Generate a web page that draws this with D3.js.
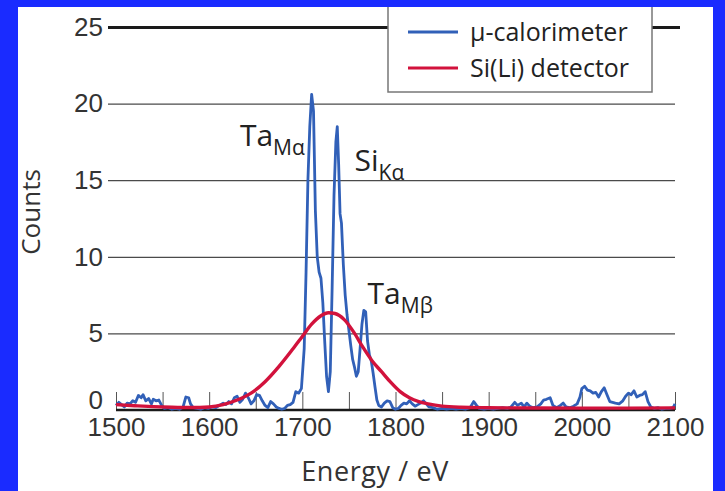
<!DOCTYPE html>
<html>
<head>
<meta charset="utf-8">
<script src="https://cdn.jsdelivr.net/npm/d3@7"></script>
<style>
    body { margin: 0; background: #1a2bff; }
    svg { display: block; font-family: "Open Sans", sans-serif; }
    .tick text { font-size: 26px; fill: #333; }
</style>
</head>
<body>
<script>
// μ-calorimeter spectrum: energy (eV) and counts
const calEnergy = [1500, 1503, 1506, 1509, 1512, 1515, 1518, 1521, 1524, 1527, 1529, 1532, 1535, 1538, 1540, 1543, 1546, 1549, 1552, 1556,
    1560, 1564, 1568, 1572, 1575, 1578, 1580, 1583, 1587, 1591, 1595, 1599, 1603, 1607, 1611, 1615, 1618, 1621, 1624, 1627,
    1630, 1633, 1636, 1639, 1642, 1645, 1648, 1651, 1654, 1657, 1660, 1663, 1666, 1669, 1672, 1675, 1678, 1681, 1684, 1687,
    1690, 1693, 1696, 1699, 1702, 1704, 1706, 1708, 1710, 1712, 1714, 1716, 1718, 1720, 1722, 1724, 1726, 1728, 1730, 1732,
    1734, 1736, 1737.5, 1739, 1740.5, 1742, 1744, 1746, 1748, 1750, 1752, 1754, 1756, 1758, 1760, 1762, 1764, 1766, 1768, 1770,
    1772, 1774, 1776, 1778, 1780, 1782, 1785, 1788, 1791, 1794, 1797, 1800, 1803, 1806, 1809, 1812, 1815, 1818, 1821, 1824,
    1827, 1830, 1833, 1836, 1840, 1845, 1850, 1855, 1860, 1865, 1870, 1875, 1880, 1884, 1887, 1890, 1895, 1900, 1905, 1910,
    1915, 1920, 1924, 1928, 1931, 1935, 1938, 1941, 1944, 1948, 1952, 1956, 1959, 1962, 1966, 1969, 1973, 1977, 1980, 1983,
    1987, 1991, 1995, 1998, 2000, 2003, 2006, 2009, 2012, 2015, 2018, 2021, 2024, 2027, 2030, 2033, 2036, 2040, 2044, 2047,
    2050, 2053, 2056, 2059, 2062, 2065, 2068, 2071, 2074, 2078, 2082, 2086, 2090, 2094, 2098, 2100]
const calCounts = [0.3, 0.5, 0.35, 0.2, 0.45, 0.4, 0.6, 0.5, 0.95, 0.8, 1.0, 0.6, 0.75, 0.4, 0.7, 0.6, 0.65, 0.3, 0.1, 0.15,
    0.05, 0.1, 0.05, 0.2, 0.85, 0.8, 0.4, 0.15, 0.1, 0.05, 0.15, 0.1, 0.2, 0.15, 0.3, 0.45, 0.35, 0.55, 0.4, 0.8,
    0.9, 0.5, 0.7, 1.1, 0.8, 0.4, 0.6, 1.0, 0.95, 0.6, 0.3, 0.15, 0.55, 0.4, 0.2, 0.1, 0.05, 0.1, 0.3, 0.35,
    0.5, 1.2, 1.1, 1.4, 4, 9, 15, 18.5, 20.6, 19.5, 13, 10, 9, 8.6, 7, 4.5, 2.2, 1.2, 2.5, 8,
    14, 17.5, 18.5, 16, 12.8, 12.2, 9.5, 7.5, 6.2, 5.2, 4.2, 3.3, 2.8, 2.2, 2.5, 4, 5.6, 6.5, 6.4, 4.5,
    3.6, 3.2, 2.4, 1.5, 0.65, 0.3, 0.2, 0.45, 0.6, 0.55, 0.15, 0.05, 0.1, 0.3, 0.45, 0.4, 0.6, 0.4, 0.25, 0.35,
    0.45, 0.6, 0.4, 0.2, 0.15, 0.05, 0.1, 0.05, 0.1, 0.05, 0.1, 0.05, 0.15, 0.55, 0.3, 0.1, 0.05, 0.1, 0.05, 0.1,
    0.15, 0.1, 0.2, 0.5, 0.3, 0.45, 0.2, 0.45, 0.25, 0.15, 0.2, 0.4, 0.65, 0.7, 0.8, 0.3, 0.15, 0.3, 0.45, 0.2,
    0.15, 0.25, 0.4, 0.85, 1.4, 1.55, 1.3, 1.25, 1.1, 1.15, 0.85, 1.2, 1.45, 1.0, 0.55, 0.5, 0.45, 0.4, 0.6, 0.9,
    1.1, 1.0, 1.25, 0.85, 0.95, 1.0, 1.2, 0.55, 0.2, 0.1, 0.15, 0.05, 0.1, 0.1, 0.15, 0.4]

// Si(Li) detector spectrum
const siliEnergy = [1500, 1520, 1540, 1560, 1580, 1600, 1615, 1630, 1645, 1660, 1675, 1690, 1700, 1710, 1720, 1728, 1735, 1745,
    1755, 1765, 1775, 1785, 1795, 1805, 1815, 1825, 1835, 1850, 1870, 1900, 1950, 2000, 2050, 2100]
const siliCounts = [0.35, 0.28, 0.22, 0.18, 0.16, 0.2, 0.35, 0.65, 1.1, 1.85, 2.85, 4.0, 4.8, 5.6, 6.15, 6.35, 6.3, 5.9,
    5.1, 4.1, 3.2, 2.5, 1.8, 1.2, 0.8, 0.55, 0.4, 0.25, 0.18, 0.15, 0.13, 0.12, 0.12, 0.14]

const xTicks = [1500, 1600, 1700, 1800, 1900, 2000, 2100]
const xMinorTicks = d3.range(1500, 2101, 50)
const yTicks = [0, 5, 10, 15, 20, 25]

const seriesNames = ["μ-calorimeter", "Si(Li) detector"]
const seriesColors = ["#3160b8", "#d2123c"]

// peak labels: [main, subscript, energy, counts]
const peakLabels = [
    ["Ta", "Mα", 1633, 17.2],
    ["Si", "Kα", 1756, 15.6],
    ["Ta", "Mβ", 1770, 6.9]
]

const WIDTH = 725
const HEIGHT = 491

const svg = d3.select("body")
    .append("svg")
    .attr("width", WIDTH)
    .attr("height", HEIGHT)

svg.append("rect")
    .attr("x", 18)
    .attr("y", 7)
    .attr("width", 695)
    .attr("height", HEIGHT - 7)
    .attr("fill", "#ffffff")

const xScale = d3.scaleLinear()
    .domain([1500, 2100])
    .range([116, 675])

const yScale = d3.scaleLinear()
    .domain([0, 25])
    .range([410, 27])

// y axis with gridlines
const yAxis = svg.append("g")
    .attr("transform", "translate(108, 0)")
    .call(d3.axisLeft(yScale).tickValues(yTicks).tickSize(-(675 - 108)).tickPadding(5))
yAxis.select(".domain").remove()
yAxis.selectAll(".tick line")
    .attr("stroke", d => d == 25 ? "#1a1a1a" : "#4a4a4a")
    .attr("stroke-width", d => d == 25 ? 3 : 1.2)
    .attr("x2", d => d == 25 ? 680 - 108 : 675 - 108)
yAxis.selectAll(".tick")
    .filter(d => d == 0)
    .select("line").remove()
yAxis.selectAll(".tick")
    .filter(d => d == 0)
    .select("text").attr("dy", "-0.05em").attr("font-size", 24)

// minor ticks pointing up from the baseline
const minor = svg.append("g")
    .attr("transform", "translate(0, 410)")
    .call(d3.axisTop(xScale).tickValues(xMinorTicks).tickSize(18).tickFormat(""))
minor.select(".domain").remove()
minor.selectAll(".tick line").attr("stroke", "#555").attr("stroke-width", 1)

// x axis labels
const xAxis = svg.append("g")
    .attr("transform", "translate(0, 410)")
    .call(d3.axisBottom(xScale).tickValues(xTicks).tickSize(0).tickPadding(8).tickFormat(d3.format("d")))
xAxis.select(".domain").remove()

svg.append("line")
    .attr("x1", xScale(1500))
    .attr("x2", xScale(2100))
    .attr("y1", yScale(0))
    .attr("y2", yScale(0))
    .attr("stroke", "#1a1a1a")
    .attr("stroke-width", 2.5)

const line = d3.line()
    .x(d => xScale(d[0]))
    .y(d => yScale(d[1]))

svg.append("path")
    .datum(d3.zip(calEnergy, calCounts))
    .attr("fill", "none")
    .attr("stroke", seriesColors[0])
    .attr("stroke-width", 2.8)
    .attr("stroke-linejoin", "round")
    .attr("d", line)

svg.append("path")
    .datum(d3.zip(siliEnergy, siliCounts))
    .attr("fill", "none")
    .attr("stroke", seriesColors[1])
    .attr("stroke-width", 3.4)
    .attr("d", line.curve(d3.curveMonotoneX))

// peak annotations
peakLabels.forEach(p => {
    const t = svg.append("text")
        .attr("x", xScale(p[2]))
        .attr("y", yScale(p[3]))
        .attr("font-size", 30)
        .attr("fill", "#222")
    t.append("tspan").text(p[0])
    t.append("tspan")
        .attr("font-size", 21)
        .attr("dy", 9)
        .text(p[1])
})

// legend
svg.append("rect")
    .attr("x", 388)
    .attr("y", 2)
    .attr("width", 264)
    .attr("height", 90)
    .attr("fill", "#fff")
    .attr("stroke", "#777")
    .attr("stroke-width", 1.5)
seriesNames.forEach((name, i) => {
    const y = 32 + i * 36
    svg.append("line")
        .attr("x1", 408)
        .attr("x2", 458)
        .attr("y1", y)
        .attr("y2", y)
        .attr("stroke", seriesColors[i])
        .attr("stroke-width", 3)
    svg.append("text")
        .attr("x", 470)
        .attr("y", y + 9)
        .attr("font-size", 25)
        .attr("fill", "#222")
        .text(name)
})

// blue border strip over legend top
svg.append("rect")
    .attr("x", 0)
    .attr("y", 0)
    .attr("width", WIDTH)
    .attr("height", 7)
    .attr("fill", "#1a2bff")

svg.append("text")
    .attr("transform", "translate(40, 212) rotate(-90)")
    .attr("text-anchor", "middle")
    .attr("font-size", 26)
    .attr("fill", "#333")
    .text("Counts")

svg.append("text")
    .attr("x", 375)
    .attr("y", 481)
    .attr("text-anchor", "middle")
    .attr("font-size", 27)
    .attr("letter-spacing", 0.6)
    .attr("fill", "#333")
    .text("Energy / eV")
</script>
</body>
</html>
